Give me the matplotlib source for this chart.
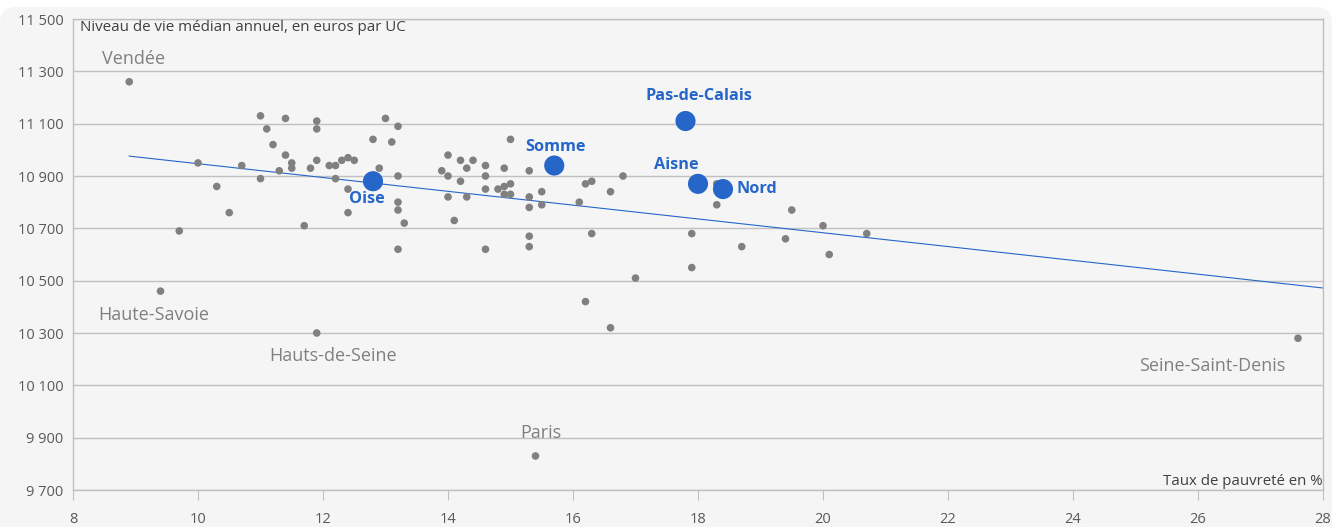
import numpy as np
import matplotlib.pyplot as plt
from matplotlib.patches import FancyBboxPatch
from matplotlib.ticker import FuncFormatter
from matplotlib.transforms import IdentityTransform

plt.rcParams['font.family'] = ['Open Sans', 'DejaVu Sans']

# departements (gris) : taux de pauvrete en %, niveau de vie median annuel
dep_x = [8.9, 9.4, 9.7, 10.0, 10.3, 10.5, 10.7, 11.0, 11.1, 11.0, 11.2, 11.3, 11.4, 11.4,
         11.5, 11.5, 11.7, 11.8, 11.9, 11.9, 11.9, 11.9, 12.1, 12.2, 12.2, 12.3, 12.4, 12.4,
         12.4, 12.5, 12.8, 12.9, 13.0, 13.1, 13.2, 13.2, 13.2, 13.2, 13.2, 13.3, 13.9, 14.0,
         14.0, 14.0, 14.1, 14.2, 14.2, 14.3, 14.3, 14.4, 14.6, 14.6, 14.6, 14.6, 14.8, 14.9,
         14.9, 14.9, 15.0, 15.0, 15.0, 15.3, 15.3, 15.3, 15.3, 15.3, 15.4, 15.5, 15.5, 16.1,
         16.2, 16.2, 16.3, 16.3, 16.6, 16.6, 16.8, 17.0, 17.9, 17.9, 18.3, 18.3, 18.7, 19.4,
         19.5, 20.0, 20.1, 20.7, 27.6]
dep_y = [11260, 10460, 10690, 10950, 10860, 10760, 10940, 11130, 11080, 10890, 11020, 10920,
         11120, 10980, 10950, 10930, 10710, 10930, 11110, 11080, 10960, 10300, 10940, 10940,
         10890, 10960, 10970, 10850, 10760, 10960, 11040, 10930, 11120, 11030, 11090, 10900,
         10800, 10770, 10620, 10720, 10920, 10980, 10900, 10820, 10730, 10960, 10880, 10930,
         10820, 10960, 10940, 10900, 10850, 10620, 10850, 10860, 10930, 10830, 10870, 10830,
         11040, 10920, 10820, 10780, 10670, 10630, 9830, 10840, 10790, 10800, 10870, 10420,
         10880, 10680, 10840, 10320, 10900, 10510, 10680, 10550, 10870, 10790, 10630, 10660,
         10770, 10710, 10600, 10680, 10280]

# departements des Hauts-de-France (bleu)
hdf_names = ['Oise', 'Somme', 'Pas-de-Calais', 'Aisne', 'Nord']
hdf_x = [12.8, 15.7, 17.8, 18.0, 18.4]
hdf_y = [10880, 10940, 11110, 10870, 10850]

# quelques departements nommes en gris
grey_names = ['Vendée', 'Haute-Savoie', 'Hauts-de-Seine', 'Paris', 'Seine-Saint-Denis']
grey_x = [8.9, 9.4, 11.9, 15.4, 27.6]
grey_y = [11260, 10460, 10300, 9830, 10280]

# droite de tendance (debut, fin)
trend_x = [8.9, 28]
trend_y = [10976, 10472]

x_ticks = [8, 10, 12, 14, 16, 18, 20, 22, 24, 26, 28]
y_ticks = [9700, 9900, 10100, 10300, 10500, 10700, 10900, 11100, 11300, 11500]

BLUE = '#2566c8'
GREY = '#808080'
TXT = '#595959'

fig = plt.figure(figsize=(13.32, 5.27), dpi=100, facecolor='white')
bg = FancyBboxPatch((0, -20), 1332, 540, boxstyle='round,pad=0,rounding_size=16',
                    transform=IdentityTransform(), facecolor='#f5f5f5', edgecolor='none',
                    zorder=-10)
fig.patches.append(bg)

ax = fig.add_axes([73 / 1332, 37 / 527, 1250 / 1332, 471 / 527])
ax.set_facecolor('#f5f5f5')

ax.scatter(dep_x, dep_y, s=30, color=GREY, edgecolors='none', zorder=3)
ax.plot(trend_x, trend_y, color=BLUE, lw=0.8, zorder=2)
ax.scatter(hdf_x, hdf_y, s=210, color=BLUE, edgecolors='none', zorder=4)

grey_off = [(4, 23), (-7, -24), (16, -23), (5, 23), (-86, -28)]
for n, x, y, off in zip(grey_names, grey_x, grey_y, grey_off):
    ax.annotate(n, (x, y), xytext=off, textcoords='offset pixels', ha='center', va='center',
                fontsize=13, color=GREY)

hdf_off = [(-6, -18), (1, 19), (13, 25), (-22, 19), (14, 0)]
for n, x, y, off in zip(hdf_names, hdf_x, hdf_y, hdf_off):
    ax.annotate(n, (x, y), xytext=off, textcoords='offset pixels',
                ha='left' if n == 'Nord' else 'center', va='center',
                fontsize=11.7, fontweight='bold', color=BLUE)

ax.set_xlim(8, 28)
ax.set_ylim(9700, 11500)
ax.set_xticks(x_ticks)
ax.set_yticks(y_ticks)
ax.yaxis.set_major_formatter(FuncFormatter(lambda v, p: f"{int(v):,}".replace(",", " ")))
ax.grid(axis='y', color='#c0c0c0', lw=1)
ax.set_axisbelow(True)
for s in ax.spines.values():
    s.set_color('#c0c0c0')
    s.set_linewidth(1)
ax.tick_params(axis='x', length=7, color='#c0c0c0', labelcolor=TXT, labelsize=10.5, pad=9)
ax.tick_params(axis='y', length=0, labelcolor=TXT, labelsize=10.5, pad=7)

ax.text(0.006, 0.981, 'Niveau de vie médian annuel, en euros par UC', transform=ax.transAxes,
        ha='left', va='center', fontsize=10.9, color='#404040')
ax.text(1.0, 0.017, 'Taux de pauvreté en %', transform=ax.transAxes,
        ha='right', va='center', fontsize=10.8, color='#404040')

fig.savefig('out.png', dpi=100, facecolor=fig.get_facecolor())
